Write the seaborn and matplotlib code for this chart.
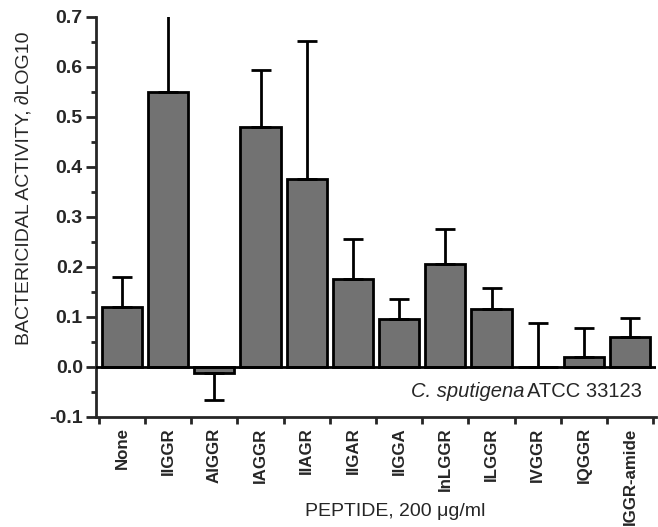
import numpy as np
import pandas as pd
import matplotlib
matplotlib.use("Agg")
import matplotlib.pyplot as plt
import seaborn as sns

peptides = ["None", "IIGGR", "AIGGR", "IAGGR", "IIAGR", "IIGAR", "IIGGA",
            "InLGGR", "ILGGR", "IVGGR", "IQGGR", "IGGR-amide"]
activity = [0.12, 0.55, -0.012, 0.48, 0.375, 0.175, 0.095, 0.205, 0.115, 0.0, 0.02, 0.06]
error = [0.06, 0.17, 0.055, 0.113, 0.277, 0.08, 0.04, 0.07, 0.042, 0.088, 0.057, 0.038]
y_ticks = [-0.1, 0.0, 0.1, 0.2, 0.3, 0.4, 0.5, 0.6, 0.7]

sns.set_style("ticks")
plt.rcParams['font.family'] = ['Liberation Sans', 'DejaVu Sans']

fig = plt.figure(figsize=(6.58, 5.27), dpi=100)
ax = fig.add_axes([0.146, 0.209, 0.851, 0.759])

df = pd.DataFrame({"peptide": peptides, "activity": activity})
sns.barplot(data=df, x="peptide", y="activity", order=peptides, color="#727272",
            saturation=1, edgecolor="black", linewidth=2, width=0.87, ax=ax, zorder=2)

act = np.array(activity)
err = np.array(error)
lower = np.where(act < 0, err, 0.0)
upper = np.where(act < 0, 0.0, err)
ax.errorbar(np.arange(len(peptides)), act, yerr=[lower, upper], fmt="none",
            ecolor="black", elinewidth=2, capsize=7, capthick=2, zorder=3)

ax.axhline(0, color="black", lw=2, zorder=4)

ax.set_xlim(-0.56, 11.56)
ax.set_ylim(-0.1, 0.7)
ax.set_yticks(y_ticks)
ax.set_yticklabels([f"{v:.1f}" for v in y_ticks], fontsize=14, fontweight="bold")
ax.set_yticks(np.arange(-0.1, 0.701, 0.05), minor=True)
ax.tick_params(axis="y", which="major", direction="out", length=7, width=2, pad=2.5)
ax.tick_params(axis="y", which="minor", direction="out", length=3.5, width=2)

ax.set_xticks(np.arange(len(peptides)))
ax.set_xticklabels(peptides, rotation=90, fontsize=12.2, fontweight="bold")
ax.set_xticks(np.arange(-0.5, 11.6, 1.0), minor=True)
ax.tick_params(axis="x", which="major", length=0, pad=7.5)
ax.tick_params(axis="x", which="minor", direction="out", length=5, width=2)

for s in ["top", "right"]:
    ax.spines[s].set_visible(False)
for s in ["left", "bottom"]:
    ax.spines[s].set_linewidth(2)

ax.set_xlabel("PEPTIDE, 200 \u03bcg/ml", fontsize=14)
ax.xaxis.set_label_coords(0.534, -0.2375)
ax.xaxis.label.set_verticalalignment("center")
ax.set_ylabel("BACTERICIDAL ACTIVITY, \u2202LOG10", fontsize=14)
ax.yaxis.set_label_coords(-0.129, 0.572)
ax.yaxis.label.set_verticalalignment("center")

ax.text(6.25, -0.05, "C. sputigena", style="italic", fontsize=14.5,
        ha="left", va="center", zorder=5)
ax.text(11.25, -0.05, "ATCC 33123", fontsize=14.5, ha="right", va="center", zorder=6,
        bbox=dict(facecolor="white", edgecolor="none", pad=0.5))

fig.savefig("out.png", dpi=100)
